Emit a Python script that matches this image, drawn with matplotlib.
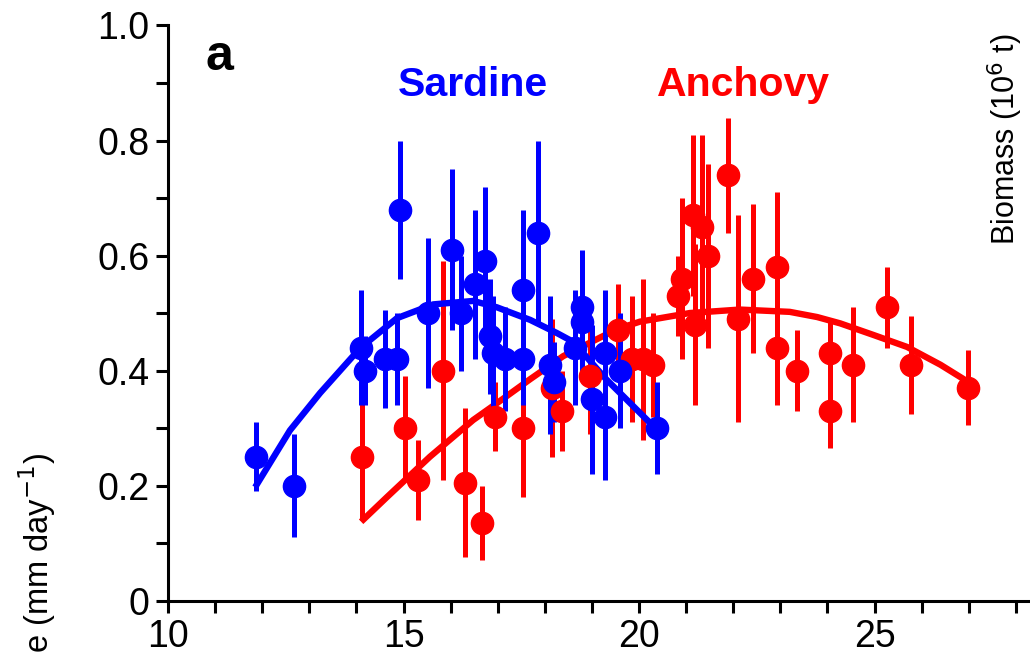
import matplotlib.pyplot as plt
from matplotlib.ticker import MultipleLocator

plt.rcParams['font.family'] = ['Liberation Sans', 'DejaVu Sans']

# sardine: temperature (deg C), growth rate, error half-width
sardine_x = [11.87, 12.68, 14.10, 14.18, 14.61, 14.86, 14.93, 15.52, 16.03, 16.22,
             16.52, 16.73, 16.84, 16.90, 17.15, 17.54, 17.54, 17.86, 18.10, 18.20,
             18.64, 18.79, 18.79, 19.00, 19.28, 19.28, 19.60, 20.38]
sardine_y = [0.25, 0.20, 0.44, 0.40, 0.42, 0.42, 0.68, 0.50, 0.61, 0.50,
             0.55, 0.59, 0.46, 0.43, 0.42, 0.54, 0.42, 0.64, 0.41, 0.38,
             0.44, 0.51, 0.485, 0.35, 0.43, 0.32, 0.40, 0.30]
sardine_err = [0.06, 0.09, 0.10, 0.06, 0.085, 0.08, 0.12, 0.13, 0.14, 0.10,
               0.13, 0.13, 0.10, 0.10, 0.09, 0.14, 0.08, 0.16, 0.12, 0.07,
               0.10, 0.10, 0.10, 0.13, 0.11, 0.11, 0.10, 0.08]

# sardine fitted curve
sardine_fit_x = [11.85, 12.59, 13.23, 14.08, 14.86, 15.63, 16.48, 16.98, 17.69,
                 18.26, 18.60, 19.30, 20.38]
sardine_fit_y = [0.197, 0.296, 0.361, 0.439, 0.491, 0.515, 0.521, 0.51, 0.488,
                 0.465, 0.45, 0.385, 0.297]

# anchovy
anchovy_x = [14.12, 15.03, 15.31, 15.84, 16.30, 16.67, 16.94, 17.54, 18.15, 18.37,
             18.96, 19.56, 19.85, 20.08, 20.30, 20.83, 20.91, 21.15, 21.19, 21.33,
             21.46, 21.89, 22.10, 22.42, 22.93, 22.93, 23.35, 24.05, 24.05, 24.55,
             25.27, 25.78, 26.98]
anchovy_y = [0.25, 0.30, 0.21, 0.40, 0.205, 0.135, 0.32, 0.30, 0.37, 0.33,
             0.39, 0.47, 0.42, 0.42, 0.41, 0.53, 0.56, 0.67, 0.48, 0.65,
             0.60, 0.74, 0.49, 0.56, 0.58, 0.44, 0.40, 0.43, 0.33, 0.41,
             0.51, 0.41, 0.37]
anchovy_err = [0.11, 0.09, 0.07, 0.19, 0.13, 0.065, 0.06, 0.12, 0.12, 0.07,
               0.10, 0.08, 0.11, 0.14, 0.09, 0.07, 0.14, 0.14, 0.14, 0.16,
               0.16, 0.10, 0.18, 0.13, 0.13, 0.10, 0.07, 0.055, 0.065, 0.10,
               0.07, 0.085, 0.065]

anchovy_fit_x = [14.10, 14.65, 15.56, 16.48, 16.98, 17.69, 18.39, 19.53, 20.02,
                 21.08, 22.14, 23.20, 23.78, 24.27, 24.97, 25.69, 26.40, 27.03]
anchovy_fit_y = [0.137, 0.18, 0.25, 0.314, 0.343, 0.385, 0.425, 0.472, 0.485,
                 0.50, 0.506, 0.502, 0.493, 0.482, 0.462, 0.441, 0.41, 0.378]

BLUE = '#0000ff'
RED = '#ff0000'

fig = plt.figure(figsize=(10.30, 6.64), dpi=100)
ax = fig.add_axes([0.1631, 0.0956, 0.8369, 0.866])

ax.plot(anchovy_fit_x, anchovy_fit_y, color=RED, lw=4.6, solid_capstyle='butt')
ax.errorbar(anchovy_x, anchovy_y, yerr=anchovy_err, fmt='o', color=RED,
            ms=16, elinewidth=3.6, capsize=0)
ax.plot(sardine_fit_x, sardine_fit_y, color=BLUE, lw=4.6, solid_capstyle='butt')
ax.errorbar(sardine_x, sardine_y, yerr=sardine_err, fmt='o', color=BLUE,
            ms=16, elinewidth=3.6, capsize=0)

ax.set_xlim(10, 28.3)
ax.set_ylim(0, 1.0)
ax.xaxis.set_major_locator(MultipleLocator(5))
ax.xaxis.set_minor_locator(MultipleLocator(1))
ax.set_yticks([0, 0.2, 0.4, 0.6, 0.8, 1.0])
ax.set_yticklabels(['0', '0.2', '0.4', '0.6', '0.8', '1.0'])
ax.yaxis.set_minor_locator(MultipleLocator(0.1))

for s in ['top', 'right']:
    ax.spines[s].set_visible(False)
for s in ['left', 'bottom']:
    ax.spines[s].set_linewidth(2.2)
ax.tick_params(which='both', direction='out', length=8.5, width=2.2,
               labelsize=27, pad=5)

ax.text(0.043, 0.945, 'a', transform=ax.transAxes, fontsize=36,
        fontweight='bold', va='center')
ax.text(16.48, 0.896, 'Sardine', color=BLUE, fontsize=29.5, fontweight='bold',
        ha='center', va='center')
ax.text(22.22, 0.896, 'Anchovy', color=RED, fontsize=29.5, fontweight='bold',
        ha='center', va='center')

# only the end of the left axis label is inside the picture
fig.text(0.036, 0.318, 'e (mm day$^{-1}$)', rotation=90,
         rotation_mode='anchor', ha='right', va='center', fontsize=23.5)
fig.text(0.976, 0.79, 'Biomass (10$^6$ t)', rotation=90, ha='center',
         va='center', fontsize=22)

fig.savefig('out.png', dpi=100)
